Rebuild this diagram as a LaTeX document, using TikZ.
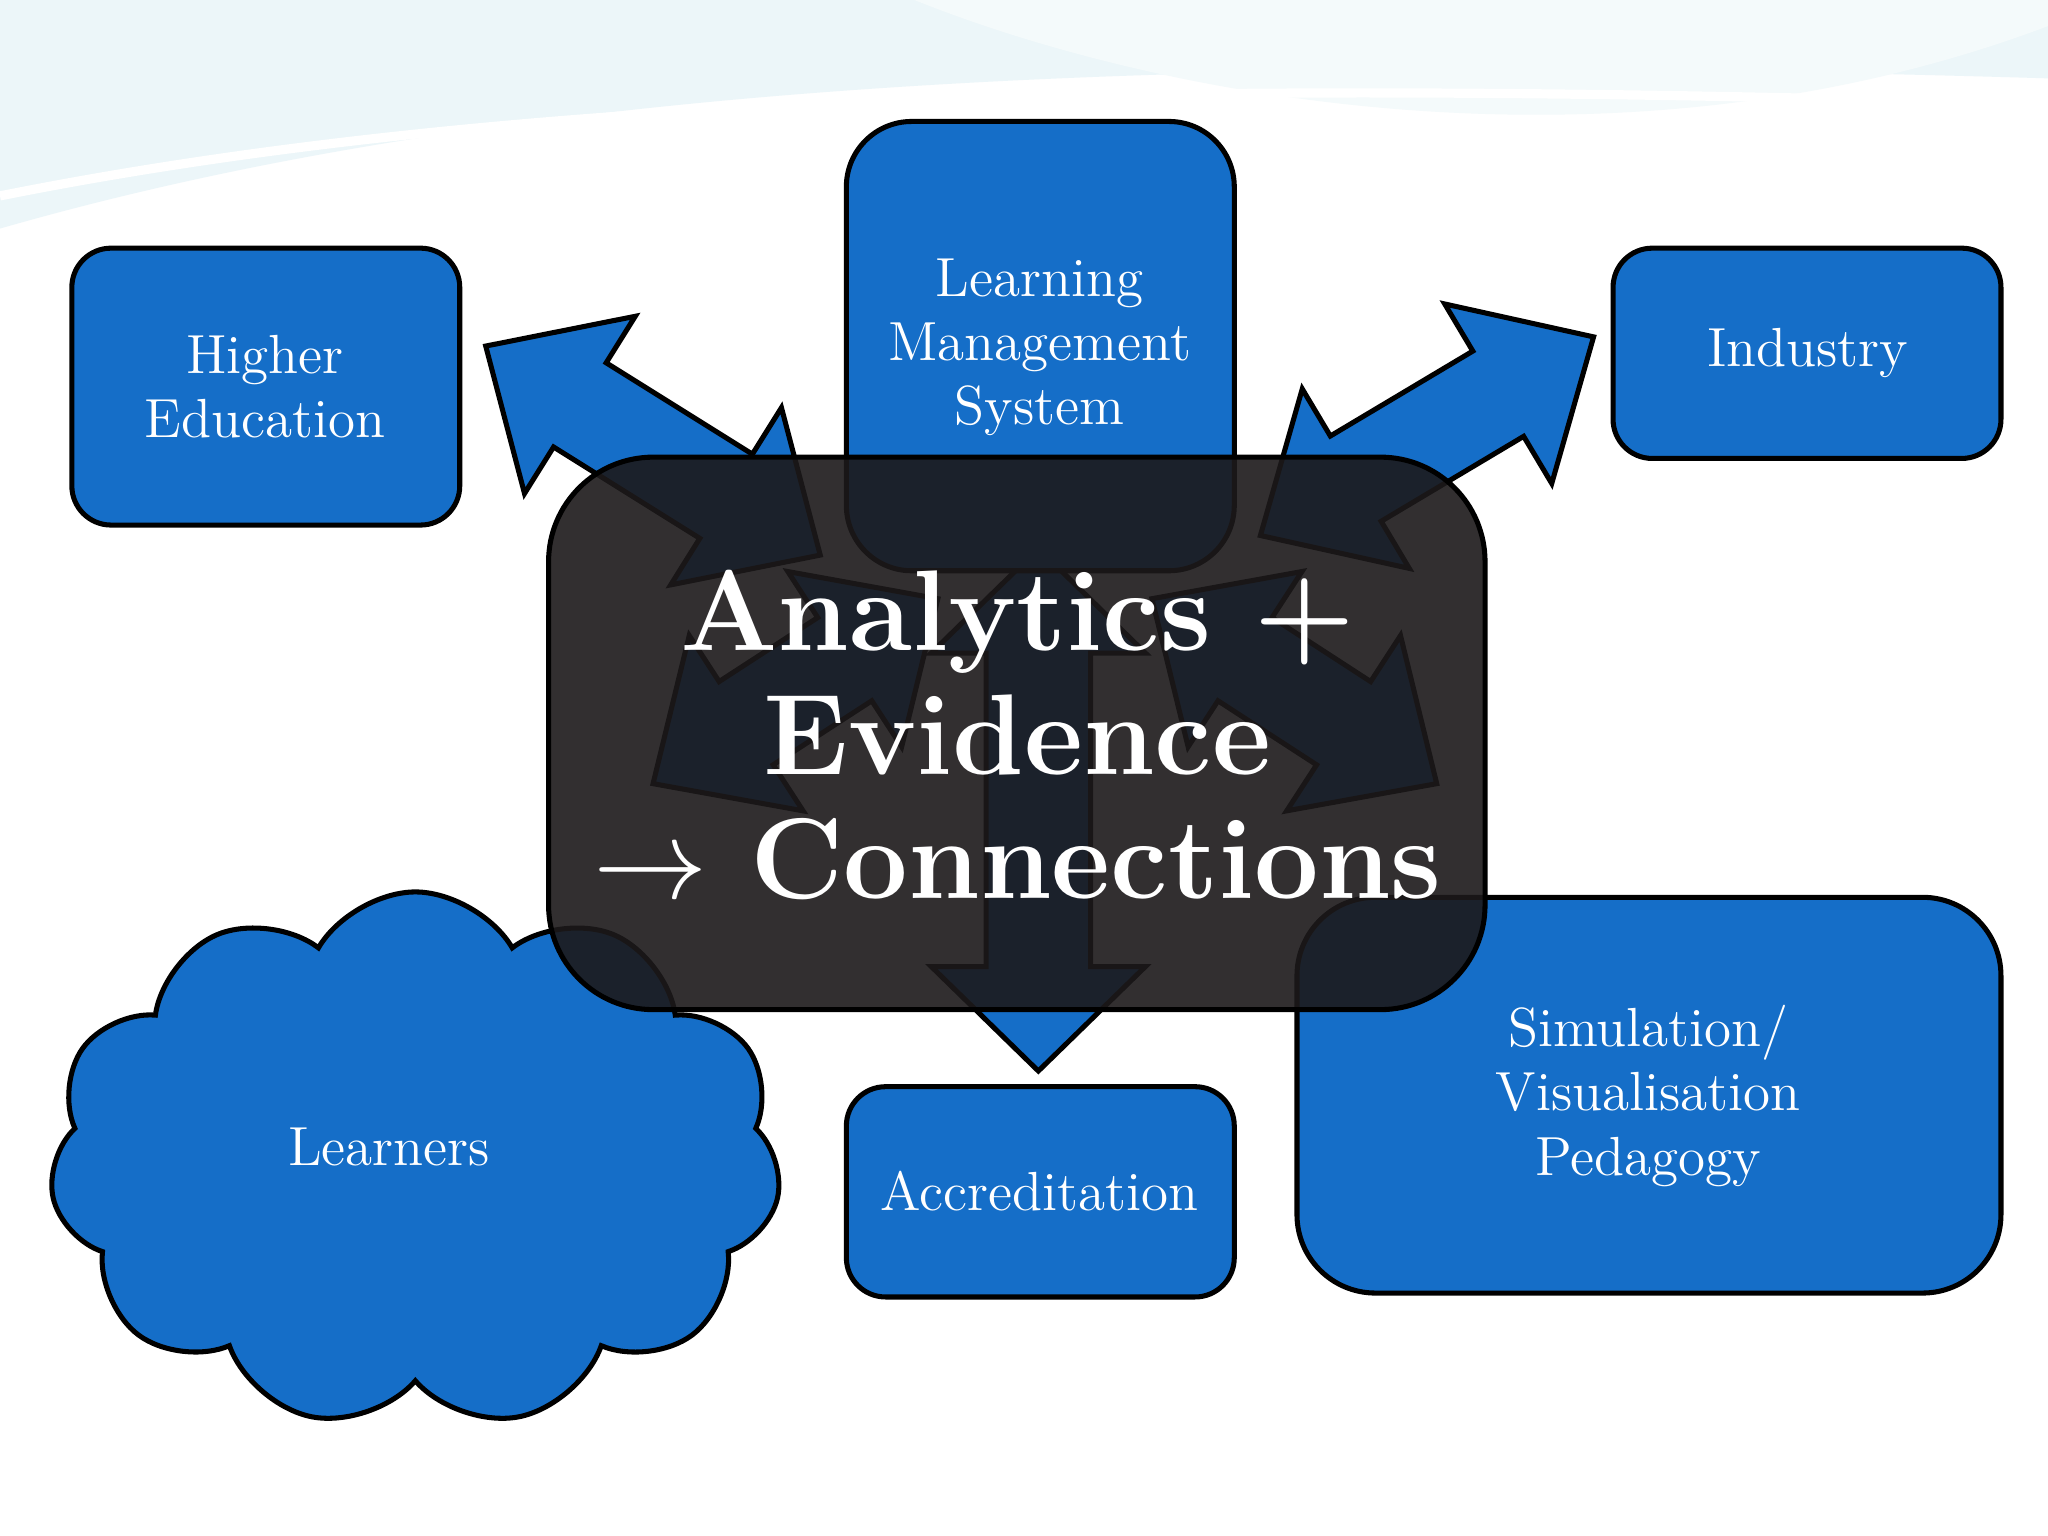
\documentclass[tikz,border=0pt]{standalone}
\usetikzlibrary{shapes.symbols}
\definecolor{bx}{RGB}{21,110,200}
\definecolor{dk}{RGB}{28,25,26}
\definecolor{wv}{RGB}{236,246,249}
\tikzset{
 bluebox/.style={draw=black,line width=1.1pt,fill=bx,rounded corners=0.3cm},
 lbl/.style={text=white,align=center,font=\fontsize{12}{14}\selectfont},
 arr/.style={draw=black,line width=1.1pt,fill=bx,line join=miter},
}
\newcommand{\dblarr}[4]{(0,0)--(#4,#3)--(#4,#2)--({#1-#4},#2)--({#1-#4},#3)--(#1,0)--({#1-#4},-#3)--({#1-#4},-#2)--(#4,-#2)--(#4,-#3)--cycle}
\begin{document}
\begin{tikzpicture}[x=0.01cm,y=-0.01cm]
\useasboundingbox (0,0) rectangle (1568,1176);
\fill[white] (0,0) rectangle (1568,1176);
% background waves
\fill[wv] (0,0) -- (0,175) .. controls (400,60) and (900,40) .. (1568,60) -- (1568,0) -- cycle;
\fill[wv!60!white] (700,0) .. controls (900,80) and (1250,140) .. (1568,20) -- (1568,0) -- cycle;
\draw[white,line width=2pt] (0,150) .. controls (400,70) and (900,60) .. (1568,80);
% arrows
\begin{scope}[shift={(628,425)},rotate=148]
 \draw[arr] \dblarr{302}{38}{80}{85};
\end{scope}
\begin{scope}[shift={(965,410)},rotate=30.8]
 \draw[arr] \dblarr{297}{38}{80}{85};
\end{scope}
\begin{scope}[shift={(795,820)},rotate=90]
 \draw[arr] \dblarr{400}{40}{82}{80};
\end{scope}
\begin{scope}[shift={(500,600)},rotate=33]
 \draw[arr] \dblarr{260}{38}{80}{85};
\end{scope}
\begin{scope}[shift={(1100,600)},rotate=147]
 \draw[arr] \dblarr{260}{38}{80}{85};
\end{scope}
% boxes
\draw[bluebox] (55,190) rectangle (352,402);
\node[lbl] (he) at (203,296) {Higher\\Education};
\draw[bluebox,rounded corners=0.5cm] (648,93) rectangle (945,437);
\node[lbl] (lms) at (796,266) {Learning\\Management\\System};
\draw[bluebox] (1235,190) rectangle (1532,351);
\node[lbl] (ind) at (1384,270) {Industry};
\draw[bluebox] (648,832) rectangle (945,993);
\node[lbl] (acc) at (796,912) {Accreditation};
\draw[bluebox,rounded corners=0.6cm] (993,687) rectangle (1532,990);
\node[lbl] (sim) at (1262,839) {Simulation/\\Visualisation\\Pedagogy};
\node[cloud,cloud puffs=11,cloud puff arc=120,aspect=1.35,draw=black,line width=1.1pt,fill=bx,minimum width=5.6cm,minimum height=4.1cm] (cl) at (318,888) {};
\node[lbl] (lrn) at (298,878) {Learners};
% dark centre
\fill[dk,opacity=0.9,rounded corners=0.8cm] (420,350) rectangle (1137,773);
\draw[black,line width=1.1pt,rounded corners=0.8cm] (420,350) rectangle (1137,773);
\node[text=white,align=center,font=\fontsize{25}{27}\selectfont\bfseries] (ctr) at (779,563) {Analytics +\\Evidence\\$\rightarrow$ Connections};
\end{tikzpicture}
\end{document}
